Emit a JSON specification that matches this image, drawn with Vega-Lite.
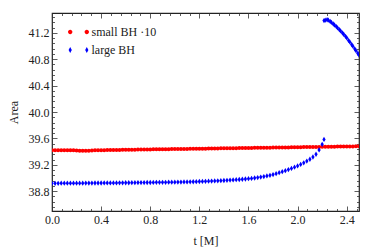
{
  "$schema": "https://vega.github.io/schema/vega-lite/v6.json",
  "width": 307,
  "height": 198,
  "autosize": {"type": "none"},
  "padding": {"left": 52, "top": 13, "right": 15, "bottom": 38},
  "background": "white",
  "config": {
    "view": {"stroke": "#222", "strokeWidth": 1.2},
    "font": "Liberation Serif",
    "axis": {
      "domain": false,
      "grid": false,
      "labelFont": "Liberation Serif",
      "labelFontSize": 12,
      "labelColor": "#222",
      "titleFont": "Liberation Serif",
      "titleFontSize": 12,
      "titleFontWeight": "normal",
      "titleColor": "#222",
      "tickColor": "#333",
      "tickWidth": 0.8,
      "labelOverlap": false,
      "labelFlush": false,
      "labelBound": false
    },
    "legend": {
      "labelFont": "Liberation Serif",
      "labelFontSize": 12,
      "labelColor": "#222",
      "title": null
    }
  },
  "datasets": {
    "small": [
      {"t": 0.0, "a": 39.420}, {"t": 0.025, "a": 39.421}, {"t": 0.05, "a": 39.421}, {"t": 0.075, "a": 39.422},
      {"t": 0.1, "a": 39.422}, {"t": 0.125, "a": 39.422}, {"t": 0.15, "a": 39.421}, {"t": 0.175, "a": 39.419},
      {"t": 0.2, "a": 39.416}, {"t": 0.225, "a": 39.413}, {"t": 0.25, "a": 39.412}, {"t": 0.275, "a": 39.412},
      {"t": 0.3, "a": 39.414}, {"t": 0.325, "a": 39.417}, {"t": 0.35, "a": 39.420}, {"t": 0.375, "a": 39.421},
      {"t": 0.4, "a": 39.422}, {"t": 0.425, "a": 39.422}, {"t": 0.45, "a": 39.423}, {"t": 0.475, "a": 39.424},
      {"t": 0.5, "a": 39.424}, {"t": 0.525, "a": 39.425}, {"t": 0.55, "a": 39.426}, {"t": 0.575, "a": 39.427},
      {"t": 0.6, "a": 39.427}, {"t": 0.625, "a": 39.428}, {"t": 0.65, "a": 39.429}, {"t": 0.675, "a": 39.429},
      {"t": 0.7, "a": 39.430}, {"t": 0.725, "a": 39.431}, {"t": 0.75, "a": 39.431}, {"t": 0.775, "a": 39.432},
      {"t": 0.8, "a": 39.433}, {"t": 0.825, "a": 39.434}, {"t": 0.85, "a": 39.434}, {"t": 0.875, "a": 39.435},
      {"t": 0.9, "a": 39.436}, {"t": 0.925, "a": 39.436}, {"t": 0.95, "a": 39.437}, {"t": 0.975, "a": 39.438},
      {"t": 1.0, "a": 39.438}, {"t": 1.025, "a": 39.439}, {"t": 1.05, "a": 39.440}, {"t": 1.075, "a": 39.441},
      {"t": 1.1, "a": 39.441}, {"t": 1.125, "a": 39.442}, {"t": 1.15, "a": 39.443}, {"t": 1.175, "a": 39.443},
      {"t": 1.2, "a": 39.444}, {"t": 1.225, "a": 39.445}, {"t": 1.25, "a": 39.445}, {"t": 1.275, "a": 39.446},
      {"t": 1.3, "a": 39.447}, {"t": 1.325, "a": 39.448}, {"t": 1.35, "a": 39.448}, {"t": 1.375, "a": 39.449},
      {"t": 1.4, "a": 39.450}, {"t": 1.425, "a": 39.450}, {"t": 1.45, "a": 39.451}, {"t": 1.475, "a": 39.452},
      {"t": 1.5, "a": 39.452}, {"t": 1.525, "a": 39.453}, {"t": 1.55, "a": 39.454}, {"t": 1.575, "a": 39.455},
      {"t": 1.6, "a": 39.455}, {"t": 1.625, "a": 39.456}, {"t": 1.65, "a": 39.457}, {"t": 1.675, "a": 39.457},
      {"t": 1.7, "a": 39.458}, {"t": 1.725, "a": 39.459}, {"t": 1.75, "a": 39.459}, {"t": 1.775, "a": 39.460},
      {"t": 1.8, "a": 39.461}, {"t": 1.825, "a": 39.462}, {"t": 1.85, "a": 39.462}, {"t": 1.875, "a": 39.463},
      {"t": 1.9, "a": 39.464}, {"t": 1.925, "a": 39.464}, {"t": 1.95, "a": 39.465}, {"t": 1.975, "a": 39.466},
      {"t": 2.0, "a": 39.466}, {"t": 2.025, "a": 39.467}, {"t": 2.05, "a": 39.468}, {"t": 2.075, "a": 39.469},
      {"t": 2.1, "a": 39.469}, {"t": 2.125, "a": 39.470}, {"t": 2.15, "a": 39.471}, {"t": 2.175, "a": 39.471},
      {"t": 2.2, "a": 39.472}, {"t": 2.225, "a": 39.473}, {"t": 2.25, "a": 39.473}, {"t": 2.275, "a": 39.474},
      {"t": 2.3, "a": 39.475}, {"t": 2.325, "a": 39.476}, {"t": 2.35, "a": 39.476}, {"t": 2.375, "a": 39.477},
      {"t": 2.4, "a": 39.478}, {"t": 2.425, "a": 39.478}, {"t": 2.45, "a": 39.479}, {"t": 2.475, "a": 39.480},
      {"t": 2.5, "a": 39.480}
    ],
    "large": [
      {"t": 0.0, "a": 38.920}, {"t": 0.025, "a": 38.920}, {"t": 0.05, "a": 38.920}, {"t": 0.075, "a": 38.921},
      {"t": 0.1, "a": 38.921}, {"t": 0.125, "a": 38.921}, {"t": 0.15, "a": 38.921}, {"t": 0.175, "a": 38.922},
      {"t": 0.2, "a": 38.922}, {"t": 0.225, "a": 38.922}, {"t": 0.25, "a": 38.922}, {"t": 0.275, "a": 38.923},
      {"t": 0.3, "a": 38.923}, {"t": 0.325, "a": 38.923}, {"t": 0.35, "a": 38.924}, {"t": 0.375, "a": 38.924},
      {"t": 0.4, "a": 38.924}, {"t": 0.425, "a": 38.925}, {"t": 0.45, "a": 38.925}, {"t": 0.475, "a": 38.925},
      {"t": 0.5, "a": 38.926}, {"t": 0.525, "a": 38.926}, {"t": 0.55, "a": 38.927}, {"t": 0.575, "a": 38.927},
      {"t": 0.6, "a": 38.928}, {"t": 0.625, "a": 38.928}, {"t": 0.65, "a": 38.929}, {"t": 0.675, "a": 38.929},
      {"t": 0.7, "a": 38.930}, {"t": 0.725, "a": 38.930}, {"t": 0.75, "a": 38.931}, {"t": 0.775, "a": 38.932},
      {"t": 0.8, "a": 38.932}, {"t": 0.825, "a": 38.933}, {"t": 0.85, "a": 38.934}, {"t": 0.875, "a": 38.934},
      {"t": 0.9, "a": 38.935}, {"t": 0.925, "a": 38.935}, {"t": 0.95, "a": 38.936}, {"t": 0.975, "a": 38.937},
      {"t": 1.0, "a": 38.937}, {"t": 1.025, "a": 38.938}, {"t": 1.05, "a": 38.939}, {"t": 1.075, "a": 38.940},
      {"t": 1.1, "a": 38.941}, {"t": 1.125, "a": 38.942}, {"t": 1.15, "a": 38.943}, {"t": 1.175, "a": 38.945},
      {"t": 1.2, "a": 38.947}, {"t": 1.225, "a": 38.948}, {"t": 1.25, "a": 38.950}, {"t": 1.275, "a": 38.952},
      {"t": 1.3, "a": 38.954}, {"t": 1.325, "a": 38.956}, {"t": 1.35, "a": 38.958}, {"t": 1.375, "a": 38.960},
      {"t": 1.4, "a": 38.962}, {"t": 1.425, "a": 38.965}, {"t": 1.45, "a": 38.968}, {"t": 1.475, "a": 38.971},
      {"t": 1.5, "a": 38.974}, {"t": 1.525, "a": 38.977}, {"t": 1.55, "a": 38.981}, {"t": 1.575, "a": 38.985},
      {"t": 1.6, "a": 38.989}, {"t": 1.625, "a": 38.994}, {"t": 1.65, "a": 39.000}, {"t": 1.675, "a": 39.006},
      {"t": 1.7, "a": 39.014}, {"t": 1.725, "a": 39.022}, {"t": 1.75, "a": 39.031}, {"t": 1.775, "a": 39.040},
      {"t": 1.8, "a": 39.052}, {"t": 1.825, "a": 39.066}, {"t": 1.85, "a": 39.081}, {"t": 1.875, "a": 39.096},
      {"t": 1.9, "a": 39.111}, {"t": 1.925, "a": 39.127}, {"t": 1.95, "a": 39.145}, {"t": 1.975, "a": 39.164},
      {"t": 2.0, "a": 39.183}, {"t": 2.025, "a": 39.205}, {"t": 2.05, "a": 39.230}, {"t": 2.075, "a": 39.256},
      {"t": 2.1, "a": 39.284}, {"t": 2.125, "a": 39.318}, {"t": 2.15, "a": 39.360}, {"t": 2.175, "a": 39.425},
      {"t": 2.2, "a": 39.510}, {"t": 2.215, "a": 39.585},
      {"t": 2.215, "a": 41.385}, {"t": 2.225, "a": 41.392}, {"t": 2.24, "a": 41.398}, {"t": 2.25, "a": 41.392},
      {"t": 2.265, "a": 41.372}, {"t": 2.275, "a": 41.358}, {"t": 2.29, "a": 41.335}, {"t": 2.3, "a": 41.318},
      {"t": 2.315, "a": 41.295}, {"t": 2.325, "a": 41.276}, {"t": 2.34, "a": 41.248}, {"t": 2.35, "a": 41.228},
      {"t": 2.365, "a": 41.198}, {"t": 2.375, "a": 41.178}, {"t": 2.39, "a": 41.146}, {"t": 2.4, "a": 41.124},
      {"t": 2.415, "a": 41.085}, {"t": 2.425, "a": 41.061}, {"t": 2.44, "a": 41.023}, {"t": 2.45, "a": 40.997},
      {"t": 2.465, "a": 40.958}, {"t": 2.475, "a": 40.931}, {"t": 2.49, "a": 40.890}, {"t": 2.5, "a": 40.862}
    ]
  },
  "layer": [
    {
      "data": {"name": "small"},
      "mark": {"type": "point", "filled": true, "shape": "circle", "size": 16, "opacity": 1, "clip": true},
      "encoding": {
        "x": {
          "field": "t", "type": "quantitative",
          "scale": {"domain": [0, 2.5], "nice": false, "zero": false},
          "axis": {
            "orient": "bottom",
            "title": "t [M]",
            "titlePadding": 8,
            "values": [0, 0.08, 0.16, 0.24, 0.32, 0.4, 0.48, 0.56, 0.64, 0.72, 0.8, 0.88, 0.96, 1.04, 1.12, 1.2, 1.28, 1.36, 1.44, 1.52, 1.6, 1.68, 1.76, 1.84, 1.92, 2.0, 2.08, 2.16, 2.24, 2.32, 2.4, 2.48],
            "labelExpr": "abs(datum.value/0.4 - round(datum.value/0.4)) < 0.001 ? format(datum.value, '.1f') : ''",
            "tickSize": {"condition": {"test": "abs(datum.value/0.4 - round(datum.value/0.4)) < 0.001", "value": -5}, "value": -2.5},
            "labelPadding": 8
          }
        },
        "y": {
          "field": "a", "type": "quantitative",
          "scale": {"domain": [38.5, 41.5], "nice": false, "zero": false},
          "axis": {
            "orient": "left",
            "title": "Area",
            "titlePadding": 8,
            "values": [38.56, 38.64, 38.72, 38.8, 38.88, 38.96, 39.04, 39.12, 39.2, 39.28, 39.36, 39.44, 39.52, 39.6, 39.68, 39.76, 39.84, 39.92, 40.0, 40.08, 40.16, 40.24, 40.32, 40.4, 40.48, 40.56, 40.64, 40.72, 40.8, 40.88, 40.96, 41.04, 41.12, 41.2, 41.28, 41.36, 41.44],
            "labelExpr": "abs(datum.value/0.4 - round(datum.value/0.4)) < 0.001 ? format(datum.value, '.1f') : ''",
            "tickSize": {"condition": {"test": "abs(datum.value/0.4 - round(datum.value/0.4)) < 0.001", "value": -5}, "value": -2.5},
            "labelPadding": 8
          }
        },
        "color": {
          "datum": "small BH ·10",
          "type": "nominal",
          "scale": {"domain": ["small BH ·10"], "range": ["#ff0000"]},
          "legend": {
            "title": null,
            "orient": "none",
            "legendX": 17.5,
            "legendY": 10,
            "padding": 0,
            "symbolSize": 324,
            "symbolStrokeWidth": 0,
            "labelOffset": 4,
            "symbolType": "M -1.166 0 A 0.244 0.244 0 1 0 -0.678 0 A 0.244 0.244 0 1 0 -1.166 0 Z M 0.678 0 A 0.244 0.244 0 1 0 1.166 0 A 0.244 0.244 0 1 0 0.678 0 Z"
          }
        }
      }
    },
    {
      "data": {"name": "large"},
      "mark": {"type": "point", "filled": true, "shape": "M0,-1L0.62,0L0,1L-0.62,0Z", "size": 28, "opacity": 1, "clip": true},
      "encoding": {
        "x": {
          "field": "t", "type": "quantitative",
          "axis": {
            "orient": "top",
            "title": null,
            "labels": false,
            "values": [0, 0.08, 0.16, 0.24, 0.32, 0.4, 0.48, 0.56, 0.64, 0.72, 0.8, 0.88, 0.96, 1.04, 1.12, 1.2, 1.28, 1.36, 1.44, 1.52, 1.6, 1.68, 1.76, 1.84, 1.92, 2.0, 2.08, 2.16, 2.24, 2.32, 2.4, 2.48],
            "tickSize": {"condition": {"test": "abs(datum.value/0.4 - round(datum.value/0.4)) < 0.001", "value": -5}, "value": -2.5}
          }
        },
        "y": {
          "field": "a", "type": "quantitative",
          "axis": {
            "orient": "right",
            "title": null,
            "labels": false,
            "values": [38.56, 38.64, 38.72, 38.8, 38.88, 38.96, 39.04, 39.12, 39.2, 39.28, 39.36, 39.44, 39.52, 39.6, 39.68, 39.76, 39.84, 39.92, 40.0, 40.08, 40.16, 40.24, 40.32, 40.4, 40.48, 40.56, 40.64, 40.72, 40.8, 40.88, 40.96, 41.04, 41.12, 41.2, 41.28, 41.36, 41.44],
            "tickSize": {"condition": {"test": "abs(datum.value/0.4 - round(datum.value/0.4)) < 0.001", "value": -5}, "value": -2.5}
          }
        },
        "fill": {
          "datum": "large BH",
          "type": "nominal",
          "scale": {"domain": ["large BH"], "range": ["#0000ff"]},
          "legend": {
            "title": null,
            "orient": "none",
            "legendX": 17.5,
            "legendY": 28,
            "padding": 0,
            "symbolSize": 324,
            "symbolStrokeWidth": 0,
            "labelOffset": 4,
            "symbolType": "M -0.922 -0.33 L -0.742 0 L -0.922 0.33 L -1.102 0 Z M 0.922 -0.33 L 1.102 0 L 0.922 0.33 L 0.742 0 Z"
          }
        }
      }
    }
  ],
  "resolve": {"axis": {"x": "independent", "y": "independent"}}
}
